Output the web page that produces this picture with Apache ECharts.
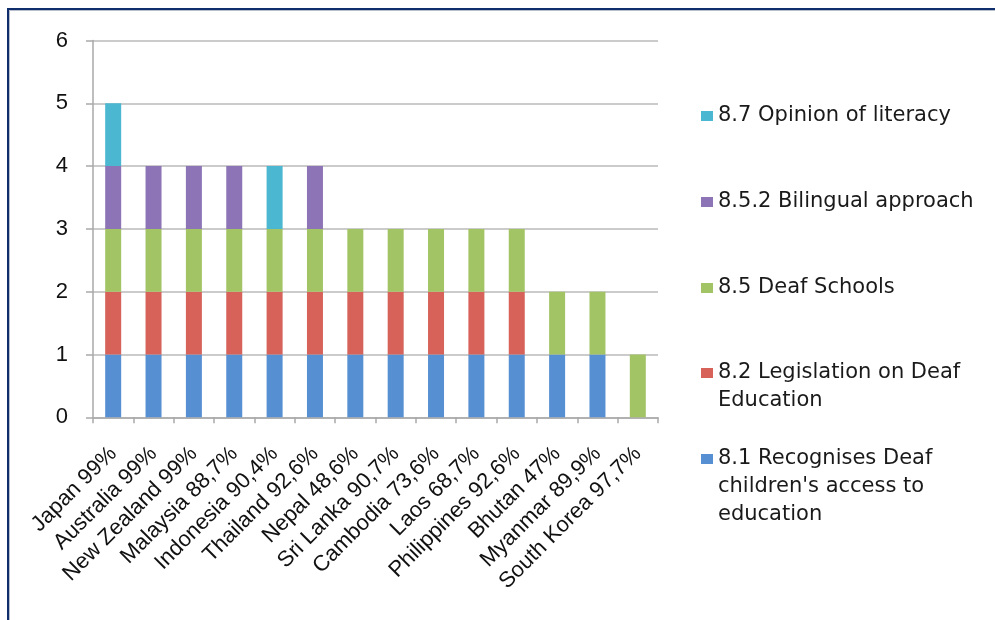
<!DOCTYPE html>
<html>
<head>
<meta charset="utf-8">
<script src="https://cdn.jsdelivr.net/npm/echarts@6/dist/echarts.min.js"></script>
<style>
html,body{margin:0;padding:0;background:#fff;width:995px;height:620px;overflow:hidden;}
#frame{position:absolute;left:7px;top:8px;width:1000px;height:700px;border-top:2px solid #102d6c;border-left:2px solid #102d6c;box-shadow:inset 1px 1px 0 #b8bfcc;}
#chart{position:absolute;left:0;top:0;width:995px;height:620px;}
</style>
</head>
<body>
<div id="frame"></div>
<div id="chart"></div>
<script>
const categories = ["Japan 99%", "Australia 99%", "New Zealand 99%", "Malaysia 88,7%", "Indonesia 90,4%", "Thailand 92,6%", "Nepal 48,6%", "Sri Lanka 90,7%", "Cambodia 73,6%", "Laos 68,7%", "Philippines 92,6%", "Bhutan 47%", "Myanmar 89,9%", "South Korea 97,7%"];
const recognises  = [1,1,1,1,1,1,1,1,1,1,1,1,1,0];
const legislation = [1,1,1,1,1,1,1,1,1,1,1,0,0,0];
const deafSchools = [1,1,1,1,1,1,1,1,1,1,1,1,1,1];
const bilingual   = [1,1,1,1,0,1,0,0,0,0,0,0,0,0];
const literacy    = [1,0,0,0,1,0,0,0,0,0,0,0,0,0];
const seriesNames = ["8.1 Recognises Deaf children's access to education", "8.2 Legislation on Deaf Education", "8.5 Deaf Schools", "8.5.2 Bilingual approach", "8.7 Opinion of literacy"];
const legendLines = [["8.1 Recognises Deaf", "children's access to", "education"], ["8.2 Legislation on Deaf", "Education"], ["8.5 Deaf Schools"], ["8.5.2 Bilingual approach"], ["8.7 Opinion of literacy"]];
const yTicks = [0,1,2,3,4,5,6];

const colors = ['#5790d2', '#d6625a', '#a3c465', '#8d74b6', '#4bb7d0'];
const seriesData = [recognises, legislation, deafSchools, bilingual, literacy];

const chart = echarts.init(document.getElementById('chart'), null, {renderer: 'canvas'});

// legend: one per item, top-down order is reversed stack order
const legendFirstLineY = [459, 373, 288, 202, 116];
const lineH = 28;
const legends = seriesNames.map((name, i) => {
  const lines = legendLines[i];
  const pad = lines.length - 1;
  const text = '\n'.repeat(pad) + lines.join('\n');
  const totalLines = lines.length + pad;
  return {
    show: true,
    data: [name],
    orient: 'vertical',
    left: 701,
    top: legendFirstLineY[i] - totalLines * lineH / 2,
    padding: 0,
    itemWidth: 12,
    itemHeight: 10,
    icon: 'rect',
    selectedMode: false,
    formatter: () => text,
    textStyle: {fontFamily: 'DejaVu Sans', fontSize: 21, lineHeight: lineH, color: '#1a1a1a'}
  };
});

const option = {
  backgroundColor: 'transparent',
  animation: false,
  color: colors,
  legend: legends,
  grid: {left: 93, right: 337, top: 40.5, bottom: 202.7, containLabel: false, outerBoundsMode: 'none'},
  xAxis: {
    type: 'category',
    data: categories,
    axisLine: {show: true, lineStyle: {color: '#a9a9a9', width: 1.5}},
    axisTick: {show: true, length: 6, alignWithLabel: false, lineStyle: {color: '#a9a9a9', width: 1.5}},
    axisLabel: {interval: 0, rotate: 45, margin: 33, fontFamily: 'Liberation Sans', fontSize: 22, color: '#111'},
    splitLine: {show: false}
  },
  yAxis: {
    type: 'value',
    min: yTicks[0],
    max: yTicks[yTicks.length - 1],
    interval: 1,
    axisLine: {show: true, lineStyle: {color: '#a9a9a9', width: 1.5}},
    axisTick: {show: true, length: 7, lineStyle: {color: '#a9a9a9', width: 1.5}},
    axisLabel: {margin: 25, fontFamily: 'Liberation Sans', fontSize: 22, color: '#111'},
    splitLine: {show: true, lineStyle: {color: '#cbcbcb', width: 2}}
  },
  series: seriesNames.map((name, i) => ({
    name: name,
    type: 'bar',
    stack: 'total',
    barWidth: 16,
    data: seriesData[i],
    itemStyle: {color: colors[i]},
    emphasis: {disabled: true}
  }))
};
chart.setOption(option);
</script>
</body>
</html>
